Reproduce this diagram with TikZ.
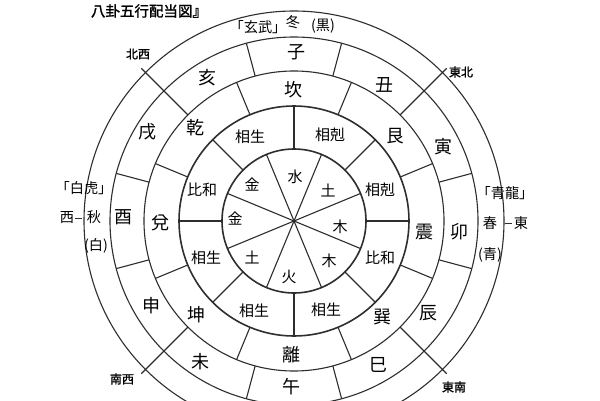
\documentclass[tikz,border=0pt]{standalone}
\usepackage{fontspec}
\setmainfont{Noto Sans CJK JP}
\newfontfamily\cjkb[FakeBold=1.5]{Noto Sans CJK JP}
\tikzset{
  ring/.style={draw=black!82, line width=1.1pt},
  thickring/.style={draw=black!82, line width=1.6pt},
  branch/.style={font=\fontsize{18}{18}\selectfont, inner sep=0pt},
  trigram/.style={font=\fontsize{18}{18}\selectfont, inner sep=0pt},
  relation/.style={font=\fontsize{15}{15}\selectfont, inner sep=0pt},
  element/.style={font=\fontsize{15}{15}\selectfont, inner sep=0pt},
  season/.style={font=\fontsize{14.2}{14.2}\selectfont, inner sep=0pt},
  direction/.style={font=\cjkb\fontsize{12}{12}\selectfont, inner sep=0pt},
}
\begin{document}
\begin{tikzpicture}[x=1pt,y=1pt]
\useasboundingbox (0,0) rectangle (600,400);
\fill[white] (0,0) rectangle (600,400);
\clip (0,0) rectangle (600,400);
\begin{scope}[shift={(0,400)}, yscale=-1]
  % circles
  \draw[ring] (294,221) circle[radius=210];
  \draw[ring] (294,221) circle[radius=184];
  \draw[ring] (294,221) circle[radius=150];
  \draw[thickring] (294,221) circle[radius=115];
  \draw[thickring] (294,221) circle[radius=72];
  \begin{scope}[shift={(294,221)}]
    % inner element spokes
    \foreach \a in {22.5,67.5,...,337.5} \draw[ring] (0,0) -- (\a:72);
    % relation ring
    \foreach \a in {0,45,...,315} \draw[ring] (\a:72) -- (\a:115);
    % trigram ring
    \foreach \a in {22.5,67.5,...,337.5} \draw[ring] (\a:115) -- (\a:150);
    % branch ring
    \foreach \a in {15,75,105,165,195,255,285,345} \draw[ring] (\a:150) -- (\a:184);
    % diagonals
    \foreach \a in {45,135,225,315} \draw[ring] (\a:150) -- (\a:216);
  \end{scope}
  % inner five elements
  \node[element] (e1) at (295,177) {水};
  \node[element] (e2) at (328,190) {土};
  \node[element] (e3) at (340,227) {木};
  \node[element] (e4) at (329,261) {木};
  \node[element] (e5) at (289,277) {火};
  \node[element] (e6) at (252,257) {土};
  \node[element] (e7) at (235,219) {金};
  \node[element] (e8) at (252,185) {金};
  % relations
  \node[relation] (r1) at (250,137) {相生};
  \node[relation] (r2) at (330,135) {相剋};
  \node[relation] (r3) at (380,190) {相剋};
  \node[relation] (r4) at (380,258) {比和};
  \node[relation] (r5) at (326,310) {相生};
  \node[relation] (r6) at (254,311) {相生};
  \node[relation] (r7) at (206,258) {相生};
  \node[relation] (r8) at (202,190) {比和};
  % trigrams
  \node[trigram] (t1) at (293,90) {坎};
  \node[trigram] (t2) at (395,136) {艮};
  \node[trigram] (t3) at (424,232) {震};
  \node[trigram] (t4) at (382,317) {巽};
  \node[trigram] (t5) at (291,355) {離};
  \node[trigram] (t6) at (196,315) {坤};
  \node[trigram] (t7) at (160,223) {兌};
  \node[trigram] (t8) at (195,128) {乾};
  % branches
  \node[branch] (b1) at (296,52) {子};
  \node[branch] (b2) at (384,85) {丑};
  \node[branch] (b3) at (443,147) {寅};
  \node[branch] (b4) at (459,232) {卯};
  \node[branch] (b5) at (428,313) {辰};
  \node[branch] (b6) at (378,365) {巳};
  \node[branch] (b7) at (291,387) {午};
  \node[branch] (b8) at (200,362) {未};
  \node[branch] (b9) at (151,306) {申};
  \node[branch] (b10) at (123,217) {酉};
  \node[branch] (b11) at (147,132) {戌};
  \node[branch] (b12) at (207,78) {亥};
  % seasons
  \node[season] (s1) at (258,27) {「玄武」};
  \node[season] (s2) at (293,22) {冬};
  \node[season] (s3) at (323,26) {(黒)};
  \node[season] (s4) at (84,188) {「白虎」};
  \node[season] (s5) at (94,217) {秋};
  \node[season] (s6) at (96,246) {(白)};
  \node[season] (s7) at (67,218) {西};
  \draw[ring, line width=0.9pt] (75,218) -- (82,218);
  \node[season] (s8) at (505,193) {「青龍」};
  \node[season] (s9) at (490,223) {春};
  \node[season] (s10) at (490,255) {(青)};
  \node[season] (s11) at (521,223) {東};
  \draw[ring, line width=0.9pt] (505,223) -- (512,223);
  % directions
  \node[direction] (d1) at (138,54) {北西};
  \node[direction] (d2) at (461,72) {東北};
  \node[direction] (d3) at (122,379) {南西};
  \node[direction] (d4) at (454,387) {東南};
  % title
  \node[font=\cjkb\fontsize{14.5}{14.5}\selectfont, inner sep=0pt] (title) at (149,11) {八卦五行配当図』};
\end{scope}
\end{tikzpicture}
\end{document}
